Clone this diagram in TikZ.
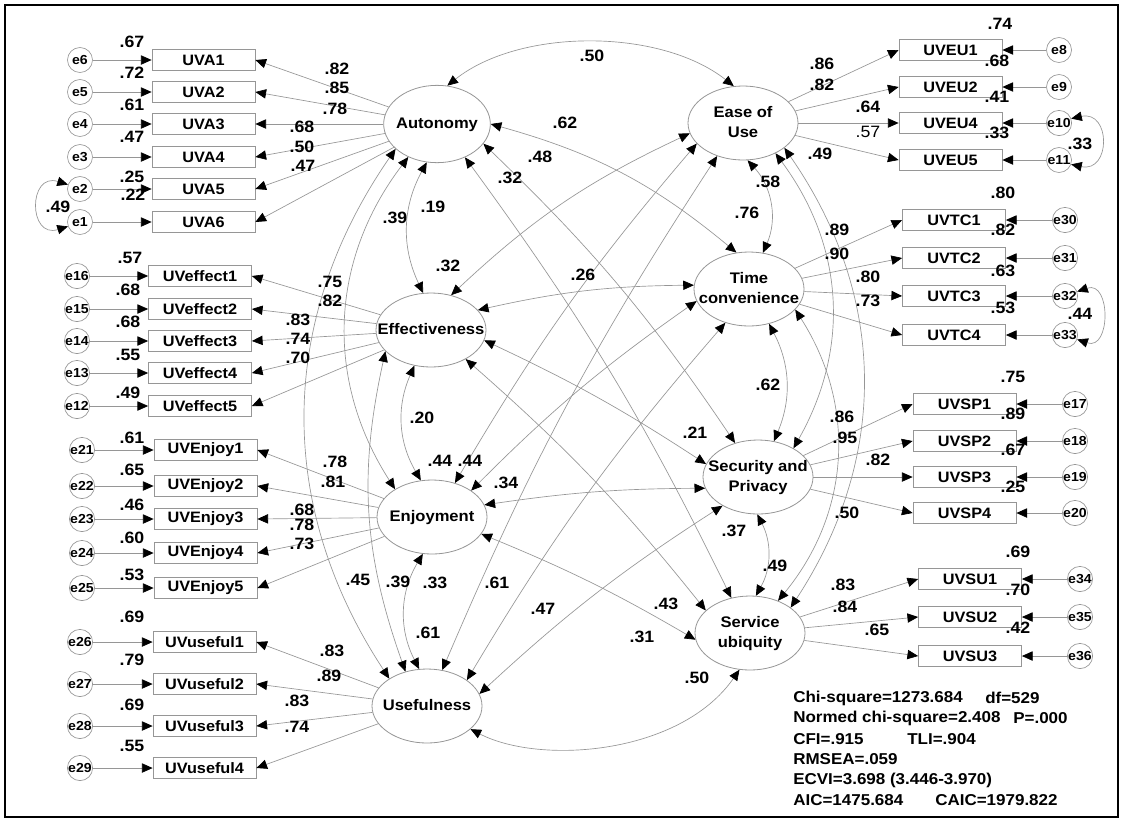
\documentclass[tikz,border=0pt]{standalone}
\usepackage{fontspec}
\setmainfont{Liberation Sans}[FakeStretch=1.08]
\usetikzlibrary{shapes.geometric,arrows.meta}
\definecolor{lg}{RGB}{150,150,150}
\newcommand{\ltxt}[1]{\makebox[0pt]{\begin{tabular}{@{}c@{}}#1\end{tabular}}}
\begin{document}
\begin{tikzpicture}[x=0.75pt,y=0.75pt,
  lat/.style={ellipse, draw=lg, line width=0.6pt, minimum width=82.5pt, minimum height=55.5pt, inner sep=0pt, font=\fontsize{11.5}{15}\selectfont\bfseries},
  obs/.style={rectangle, draw=lg, line width=0.6pt, minimum width=77.25pt, minimum height=15.75pt, inner sep=0pt, font=\fontsize{11.3}{13}\selectfont\bfseries},
  err/.style={circle, draw=lg, line width=0.5pt, minimum size=18.75pt, inner sep=0pt, font=\fontsize{9.8}{11}\selectfont\bfseries},
  coef/.style={inner sep=0pt, font=\fontsize{12.3}{14}\selectfont\bfseries},
  stat/.style={inner sep=0pt, anchor=west, font=\fontsize{11.8}{14}\selectfont\bfseries},
  tip/.tip={Triangle[length=8pt,width=7pt,color=black]},
  ld/.style={draw=lg, line width=0.5pt, -tip},
  cv/.style={draw=lg, line width=0.5pt, tip-tip}]
\useasboundingbox (0,0) rectangle (1123,-822);
\draw[line width=1.8pt] (5,-5) rectangle (1118,-817);

% latent factors
\node[lat, minimum width=80pt, minimum height=58pt] (A) at (437,-124) {\ltxt{Autonomy}};
\node[lat] (E)  at (743,-123) {\ltxt{Ease of\\Use}};
\node[lat] (Ef) at (431,-330) {\ltxt{Effectiveness}};
\node[lat] (T)  at (749,-289) {\ltxt{Time\\convenience}};
\node[lat] (En) at (432,-517) {\ltxt{Enjoyment}};
\node[lat] (S)  at (758,-477) {\ltxt{Security and\\Privacy}};
\node[lat] (SU) at (750,-633) {\ltxt{Service\\ubiquity}};
\node[lat] (U)  at (427,-706) {\ltxt{Usefulness}};

% indicators on the left
\foreach \n/\e/\y in {UVA1/e6/60, UVA2/e5/92, UVA3/e4/124, UVA4/e3/157, UVA5/e2/189, UVA6/e1/222} {
  \node[obs] (\n) at (203.5,-\y) {\n};
  \node[err] (\e) at (80,-\y) {\e};
  \draw[ld] (\e) -- (\n);
  \draw[ld] (A) -- (\n.east);
}
\foreach \n/\e/\y in {UVeffect1/e16/276, UVeffect2/e15/309, UVeffect3/e14/341, UVeffect4/e13/373, UVeffect5/e12/406} {
  \node[obs] (\n) at (200,-\y) {\n};
  \node[err] (\e) at (77,-\y) {\e};
  \draw[ld] (\e) -- (\n);
  \draw[ld] (Ef) -- (\n.east);
}
\foreach \n/\e/\y in {UVEnjoy1/e21/450, UVEnjoy2/e22/486, UVEnjoy3/e23/519, UVEnjoy4/e24/553, UVEnjoy5/e25/588} {
  \node[obs] (\n) at (205.5,-\y) {\n};
  \node[err] (\e) at (82,-\y) {\e};
  \draw[ld] (\e) -- (\n);
  \draw[ld] (En) -- (\n.east);
}
\foreach \n/\e/\y in {UVuseful1/e26/642, UVuseful2/e27/684, UVuseful3/e28/726, UVuseful4/e29/768} {
  \node[obs] (\n) at (204.5,-\y) {\n};
  \node[err] (\e) at (80,-\y) {\e};
  \draw[ld] (\e) -- (\n);
  \draw[ld] (U) -- (\n.east);
}

% indicators on the right
\foreach \n/\e/\y in {UVEU1/e8/50, UVEU2/e9/87, UVEU4/e10/123, UVEU5/e11/160} {
  \node[obs] (\n) at (950.5,-\y) {\n};
  \node[err] (\e) at (1059,-\y) {\e};
  \draw[ld] (\e) -- (\n);
  \draw[ld] (E) -- (\n.west);
}
\foreach \n/\e/\y in {UVTC1/e30/220, UVTC2/e31/258, UVTC3/e32/296, UVTC4/e33/335} {
  \node[obs] (\n) at (954,-\y) {\n};
  \node[err] (\e) at (1065,-\y) {\e};
  \draw[ld] (\e) -- (\n);
  \draw[ld] (T) -- (\n.west);
}
\foreach \n/\e/\y in {UVSP1/e17/404, UVSP2/e18/441, UVSP3/e19/477, UVSP4/e20/513} {
  \node[obs] (\n) at (964.5,-\y) {\n};
  \node[err] (\e) at (1075,-\y) {\e};
  \draw[ld] (\e) -- (\n);
  \draw[ld] (S) -- (\n.west);
}
\foreach \n/\e/\y in {UVSU1/e34/579, UVSU2/e35/617, UVSU3/e36/656} {
  \node[obs] (\n) at (970,-\y) {\n};
  \node[err] (\e) at (1080,-\y) {\e};
  \draw[ld] (\e) -- (\n);
  \draw[ld] (SU) -- (\n.west);
}

% correlated errors
\draw[cv] (e2.160) .. controls (28,-172) and (28,-239) .. (e1.200);
\draw[cv] (e10.20) .. controls (1111,-110) and (1111,-173) .. (e11.-20);
\draw[cv] (e32.20) .. controls (1111,-280) and (1111,-351) .. (e33.-20);

% factor covariances, left column
\draw[cv] (A.-105) to[bend right=27] (Ef.102);
\draw[cv] (Ef.-115) to[bend right=27] (En.107);
\draw[cv] (En.-104) to[bend right=29] (U.102);
\draw[cv] (A.-131) to[bend right=35] (En.143);
\draw[cv] (A.-149) to[bend right=34] (U.144);
\draw[cv] (Ef.-155) to[bend right=16] (U.122);
% right column
\draw[cv] (E.-83) to[bend left=33] (T.69);
\draw[cv] (T.-60) to[bend left=25] (S.66);
\draw[cv] (S.-91) to[bend left=28] (SU.81);
\draw[cv] (E.-43) to[bend left=33] (S.39);
\draw[cv] (E.-31) to[bend left=34] (SU.32);
\draw[cv] (T.-24) to[bend left=36] (SU.49);
% across the columns
\draw[cv] (A.75) .. controls (520,-28) and (660,-28) .. (E.104);
\draw[cv] (A.0) to[bend left=12] (T.109);
\draw[cv] (A.-23) to[bend left=6] (S.124);
\draw[cv] (A.-50) to[bend left=5] (SU.118);
\draw[cv] (Ef.60) to[bend left=9] (E.-169);
\draw[cv] (Ef.23) to[bend left=6] (T.176);
\draw[cv] (Ef.-11) to[bend left=4] (S.166);
\draw[cv] (Ef.-40) to[bend left=5] (SU.153);
\draw[cv] (En.56) to[bend left=5] (E.-156);
\draw[cv] (En.34) to[bend left=5] (T.-167);
\draw[cv] (En.13) to[bend left=4] (S.-168);
\draw[cv] (En.-19) to[bend left=4] (SU.-173);
\draw[cv] (U.67) to[bend left=5] (E.-128);
\draw[cv] (U.33) to[bend left=5] (T.-125);
\draw[cv] (U.13) to[bend left=5] (S.-141);
\draw[cv] (U.-28) .. controls (540,-765) and (680,-755) .. (SU.-106);

% loadings and squared multiple correlations
\foreach \x/\y/\lab [count=\i] in {337/69/.82, 337/88/.85, 335/109/.78, 302/127/.68, 302/147/.50, 303/166/.47,
  132/42/.67, 132/73/.72, 132/105/.61, 132/137/.47, 132/177/.25, 133/195/.22,
  330/282/.75, 330/301/.82, 298/320/.83, 298/339/.74, 298/358/.70,
  130/258/.57, 128/290/.68, 128/322/.68, 128/355/.55, 128/393/.49,
  335/462/.78, 333/482/.81, 302/510/.68, 302/525/.78, 302/544/.73,
  132/438/.61, 132/470/.65, 132/505/.46, 132/538/.60, 132/575/.53,
  132/617/.69, 132/660/.79, 132/705/.69, 132/746/.55,
  332/651/.83, 329/676/.89, 297/701/.83, 297/727/.74}
  \node[coef] (kl\i) at (\x,-\y) {\lab};
\foreach \x/\y/\lab [count=\i] in {822/64/.86, 822/85/.82, 868/107/.64,
  1000/24/.74, 997/61/.68, 997/97/.41, 997/133/.33,
  837/230/.89, 837/254/.90, 868/277/.80, 868/301/.73,
  1003/193/.80, 1003/230/.82, 1003/271/.63, 1003/308/.53,
  842/417/.86, 845/438/.95, 878/460/.82, 847/513/.50,
  1013/377/.75, 1013/414/.89, 1013/450/.67, 1013/487/.25,
  843/585/.83, 845/607/.84, 877/630/.65,
  1018/552/.69, 1018/590/.70, 1018/628/.42}
  \node[coef] (kr\i) at (\x,-\y) {\lab};
\node[coef, font=\fontsize{12.3}{14}\selectfont] (kr0) at (868,-132) {.57};

% covariance values
\foreach \x/\y/\lab [count=\i] in {58/207/.49, 1080/144/.33, 1080/314/.44,
  592/56/.50, 565/123/.62, 540/157/.48, 510/178/.32, 395/218/.39, 433/207/.19,
  448/266/.32, 583/275/.26, 820/154/.49, 768/182/.58, 747/213/.76, 422/418/.20,
  440/461/.44, 470/461/.44, 506/483/.34, 695/433/.21, 734/531/.37, 398/582/.39,
  435/583/.33, 497/583/.61, 428/633/.61, 543/609/.47, 666/604/.43, 642/637/.31,
  697/678/.50, 768/385/.62, 775/566/.49, 358/580/.45}
  \node[coef] (cv\i) at (\x,-\y) {\lab};

% fit statistics
\node[stat] (f1) at (793,-698) {Chi-square=1273.684};
\node[stat] (f1b) at (985,-698) {df=529};
\node[stat] (f2) at (793,-718) {Normed chi-square=2.408};
\node[stat] (f2b) at (1013,-718) {P=.000};
\node[stat] (f3) at (793,-739) {CFI=.915};
\node[stat] (f3b) at (907,-739) {TLI=.904};
\node[stat] (f4) at (793,-759) {RMSEA=.059};
\node[stat] (f5) at (793,-780) {ECVI=3.698 (3.446-3.970)};
\node[stat] (f6) at (793,-800) {AIC=1475.684};
\node[stat] (f6b) at (935,-800) {CAIC=1979.822};
\end{tikzpicture}
\end{document}
